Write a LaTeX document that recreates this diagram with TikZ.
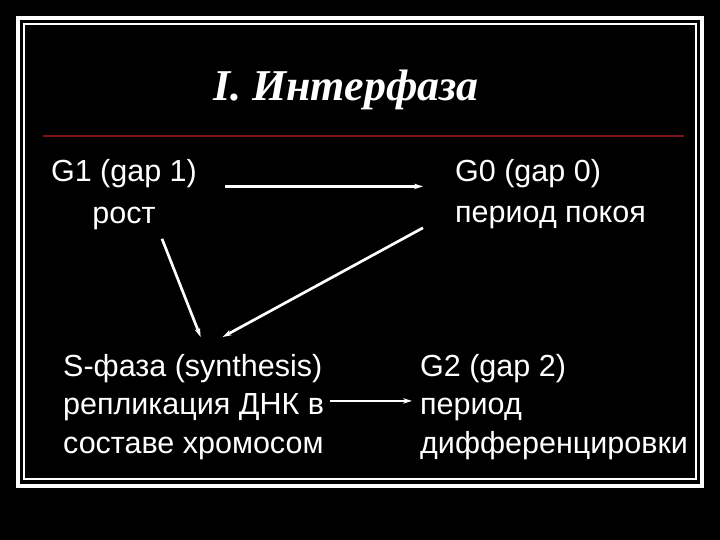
\documentclass[tikz,border=0pt]{standalone}
\usepackage{fontspec}
\setmainfont{Liberation Sans}
\newfontfamily\titlefont{Liberation Serif}
\usetikzlibrary{arrows.meta,calc}

\definecolor{redrule}{RGB}{125,22,22}
\newcommand{\txt}[1]{\fontsize{30.5}{#1}\selectfont}
\newcommand{\tn}{\node[text=white, inner sep=0pt]}

\begin{document}
\begin{tikzpicture}[x=1pt, y=-1pt,
    >={Stealth[length=9pt, width=5.5pt]},
    arr/.style={->, white, line width=2.7pt}]
        % slide and frame
        \fill[black] (0,0) rectangle (720,540);
        \draw[white, line width=4pt] (18,18) rectangle (702,486);
        \draw[white, line width=1.2pt] (24,24) rectangle (696,479);

        \node[text=white, anchor=base, font=\titlefont\fontsize{44}{50}\selectfont\bfseries\itshape]
            (title) at (346,101) {I. Интерфаза};
        \draw[redrule, line width=1.2pt] (43,136) -- (684,136);

        \tn[align=center, anchor=north, font=\txt{42}] (g1) at (124,159) {G1 (gap 1)\\рост};
        \tn[align=left, anchor=north west, font=\txt{41}] (g0) at (455,159) {G0 (gap 0)\\период покоя};
        \tn[align=left, anchor=north west, font=\txt{38.5}] (s) at (63,354) {S-фаза (synthesis)\\репликация ДНК в\\составе хромосом};
        \tn[align=left, anchor=north west, font=\txt{38.5}] (g2) at (420,354) {G2 (gap 2)\\период\\дифференцировки};

        \draw[arr] ($(g1.east)+(28,-8)$) -- ($(g0.west |- g1.east)+(-32,-8)$);
        \draw[arr] ($(g1.south)+(38,9)$) -- ($(s.north)+(7,-17)$);
        \draw[arr] ($(g0.south west)+(-32,-1)$) -- ($(s.north)+(29,-17)$);
        \draw[arr] ($(s.east)+(6,-6)$) -- ($(g2.west |- s.east)+(-8,-6)$);
    \end{tikzpicture}
\end{document}
